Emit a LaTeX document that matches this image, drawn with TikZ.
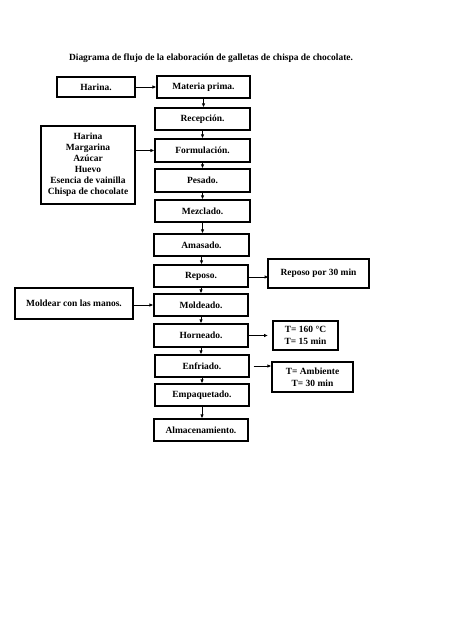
\documentclass[tikz,border=0pt]{standalone}
\usepackage{fontspec}
\setmainfont{Liberation Serif}
\usetikzlibrary{arrows.meta}

\begin{document}
\begin{tikzpicture}[x=1bp,y=-1bp,
    caja/.style={draw,line width=1.2pt,font=\bfseries\fontsize{9.5}{11}\selectfont,
      inner sep=0pt,align=center},
    flecha/.style={line width=0.9pt,-{Latex[length=4pt,width=3.5pt]}}]
    \useasboundingbox (0,0) rectangle (474,632);
    % titulo
    \node (titulo) at (211,58) {\bfseries\fontsize{9.5}{11}\selectfont Diagrama de flujo de la elaboración de galletas de chispa de chocolate.};
    % proceso principal
    \node [caja,minimum width=93bp,minimum height=22bp] (mp)    at (203.5,87)  {Materia prima.};
    \node [caja,minimum width=95bp,minimum height=22bp] (rec)   at (202.5,119) {Recepción.};
    \node [caja,minimum width=95bp,minimum height=23bp] (form)  at (202.5,150.5) {Formulación.};
    \node [caja,minimum width=95bp,minimum height=23bp] (pes)   at (202.5,180.5) {Pesado.};
    \node [caja,minimum width=95bp,minimum height=22bp] (mez)   at (202.5,211) {Mezclado.};
    \node [caja,minimum width=95bp,minimum height=22bp] (ama)   at (201.5,245) {Amasado.};
    \node [caja,minimum width=94bp,minimum height=22bp] (rep)   at (201,276)   {Reposo.};
    \node [caja,minimum width=94bp,minimum height=22bp] (mol)   at (201,305)   {Moldeado.};
    \node [caja,minimum width=94bp,minimum height=23bp] (hor)   at (201,335.5) {Horneado.};
    \node [caja,minimum width=94bp,minimum height=22bp] (enf)   at (202,366)   {Enfriado.};
    \node [caja,minimum width=94bp,minimum height=22bp] (emp)   at (202,395)   {Empaquetado.};
    \node [caja,minimum width=94bp,minimum height=22bp] (alm)   at (201,430)   {Almacenamiento.};
    % entradas y condiciones
    \node [caja,minimum width=78bp,minimum height=20bp] (har)   at (96,87)    {Harina.};
    \node [caja,line width=1.5pt,minimum width=94bp,minimum height=78bp] (ingr) at (88,165)
      {Harina\\Margarina\\Azúcar\\Huevo\\Esencia de vainilla\\Chispa de chocolate};
    \node [caja,minimum width=101bp,minimum height=29bp] (trep) at (318.5,273.5) {Reposo por 30 min};
    \node [caja,minimum width=118bp,minimum height=31bp] (mano) at (74,303.5)  {Moldear con las manos.};
    \node [caja,minimum width=65bp,minimum height=29bp,font=\bfseries\fontsize{9.5}{11.7}\selectfont]  (thor) at (305.5,335.5) {T= 160 °C\\T= 15 min};
    \node [caja,minimum width=81bp,minimum height=30bp,font=\bfseries\fontsize{9.5}{12}\selectfont]  (tenf) at (312.5,377)   {T= Ambiente\\T= 30 min};
    % flechas
    \foreach \a/\b in {mp/rec,rec/form,form/pes,pes/mez,mez/ama,ama/rep,rep/mol,mol/hor,hor/enf,enf/emp,emp/alm}
      \draw [flecha] (\a.south) -- (\a.south |- \b.north);
    \draw [flecha] (har) -- (mp);
    \draw [flecha] (ingr.east |- form) -- (form);
    \draw [flecha] (mano.east |- mol) -- (mol);
    \draw [flecha] (rep.east |- 0,277) -- ++(20,0);
    \draw [flecha] (hor) -- ++(67,0);
    \draw [flecha] ([xshift=4bp]enf.east) -- (tenf.west |- enf);
\end{tikzpicture}
\end{document}
